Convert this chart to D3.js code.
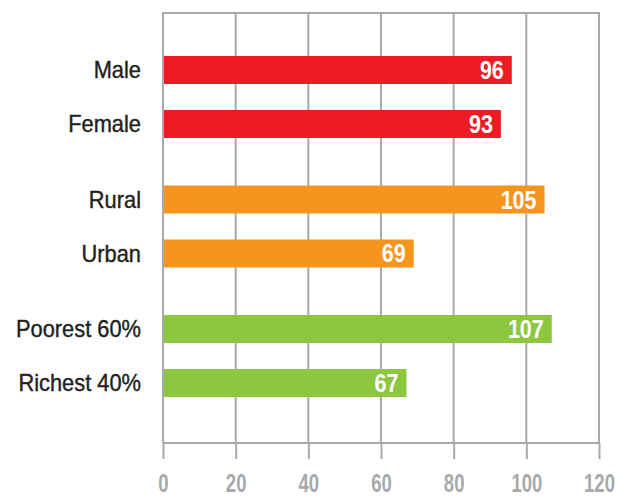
<!DOCTYPE html>
<html><head><meta charset="utf-8">
<script src="https://cdn.jsdelivr.net/npm/d3@7"></script>
<style>
body{margin:0;background:#fff;}
text{font-family:"Liberation Sans",Arial,sans-serif;}
</style></head>
<body><svg id="chart" width="617" height="497"></svg>
<script>
const categories = ["Male","Female","Rural","Urban","Poorest 60%","Richest 40%"];
const groups = ["sex","sex","residence","residence","wealth","wealth"];
const values = [96,93,105,69,107,67];
const groupNames = ["sex","residence","wealth"];
const groupColors = ["#ED1C24","#F7941D","#8DC63F"];
const tickValues = [0,20,40,60,80,100,120];

(function(){
const svg = d3.select("#chart");
const pLeft = 163, pRight = 599, pTop = 13, pBottom = 443;

const x = d3.scaleLinear().domain([0,120]).range([pLeft,pRight]);
const slotOf = categories.map((c,i)=> i + groupNames.indexOf(groups[i])*0.4);
const y = d3.scaleLinear().domain([0,5.8]).range([70,383]);
const color = d3.scaleOrdinal().domain(groupNames).range(groupColors);
const barH = 28;
const grid = "#A7A9AC";

svg.append("g").selectAll("line").data(tickValues).join("line")
  .attr("x1",d=>x(d)).attr("x2",d=>x(d)).attr("y1",pTop).attr("y2",pBottom)
  .attr("stroke",grid).attr("stroke-width",2);
svg.append("line").attr("x1",x(0)-1).attr("x2",x(120)+1).attr("y1",pTop).attr("y2",pTop)
  .attr("stroke",grid).attr("stroke-width",2);

const axis = d3.axisBottom(x).tickValues(tickValues).tickSize(16).tickPadding(0).tickFormat(d3.format("d"));
const ax = svg.append("g").attr("transform",`translate(0,${pBottom})`).call(axis);
ax.select(".domain").attr("stroke",grid).attr("stroke-width",2).attr("d",`M${pLeft},0H${pRight}`);
ax.selectAll(".tick line").attr("stroke",grid).attr("stroke-width",2);
ax.selectAll(".tick text").attr("fill",grid).style("font-size","25px").style("font-weight","bold")
  .style("font-family",'"Liberation Sans",Arial,sans-serif')
  .attr("y",49).attr("dy",0).attr("transform","scale(0.74,1)");

const rows = categories.map((c,i)=>({c, v:values[i], g:groups[i], s:slotOf[i]}));
svg.append("g").selectAll("rect").data(rows).join("rect")
  .attr("x",x(0)+1).attr("y",d=>y(d.s)-barH/2).attr("width",d=>x(d.v)-x(0)-1).attr("height",barH)
  .attr("fill",d=>color(d.g));

svg.append("g").selectAll("text").data(rows).join("text")
  .attr("transform",d=>`translate(${x(d.v)-8},${y(d.s)}) scale(0.86,1)`)
  .attr("dy","0.36em")
  .attr("text-anchor","end").attr("fill","#fff")
  .style("font-size","25px").style("font-weight","bold").text(d=>d.v);

svg.append("g").selectAll("text").data(rows).join("text")
  .attr("transform",d=>`translate(141,${y(d.s)}) scale(0.95,1)`)
  .attr("dy","0.36em")
  .attr("text-anchor","end").attr("fill","#231F20")
  .attr("stroke","#231F20").attr("stroke-width",0.4)
  .style("font-size","23px").text(d=>d.c);
})();
</script></body></html>
